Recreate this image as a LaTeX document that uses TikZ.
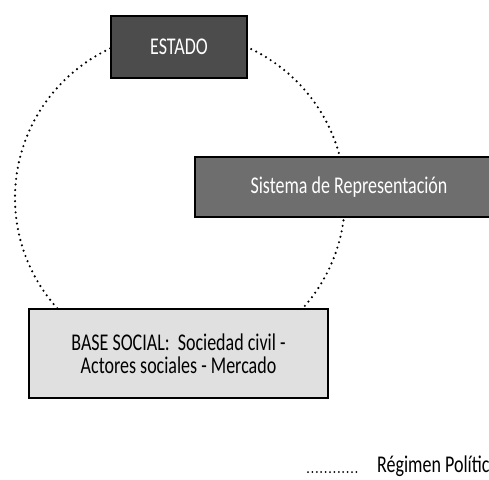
\documentclass[tikz,border=0pt]{standalone}
\usepackage{fontspec}
\setmainfont{Carlito}[FakeStretch=0.75]
\begin{document}
\begin{tikzpicture}[x=1pt,y=-1pt,
  boxstyle/.style={draw=black, line width=2pt, rectangle, inner sep=0pt, align=center,
    font=\fontsize{24}{23}\selectfont},
  ring/.style={draw=black, line width=2.4pt, dash pattern=on 0pt off 5.6pt, line cap=round}]
\useasboundingbox (0,0) rectangle (489,479);
% circle behind
\coordinate (c) at (180,198);
\draw[ring] (c) circle (165);
% boxes
\node[boxstyle, fill=black!70, text=white, minimum width=136, minimum height=62] (estado) at (179,47) {ESTADO};
\node[boxstyle, fill=black!57, text=white, minimum width=308, minimum height=60] (sistema) at (349,187) {Sistema de Representación};
\node[boxstyle, fill=black!12, minimum width=299, minimum height=89, line width=2.4pt] (base) at (178.5,353.5) {BASE SOCIAL:\ \ Sociedad civil -\\Actores sociales - Mercado};
% legend
\coordinate (l1) at (308,472);
\coordinate (l2) at (357,472);
\draw[line width=2pt, dash pattern=on 0pt off 4.4pt, line cap=round] (l1) -- (l2);
\node[anchor=base west, inner sep=0pt, font=\fontsize{24}{23}\selectfont] (leg) at (377,472) {Régimen Político};
\end{tikzpicture}
\end{document}
